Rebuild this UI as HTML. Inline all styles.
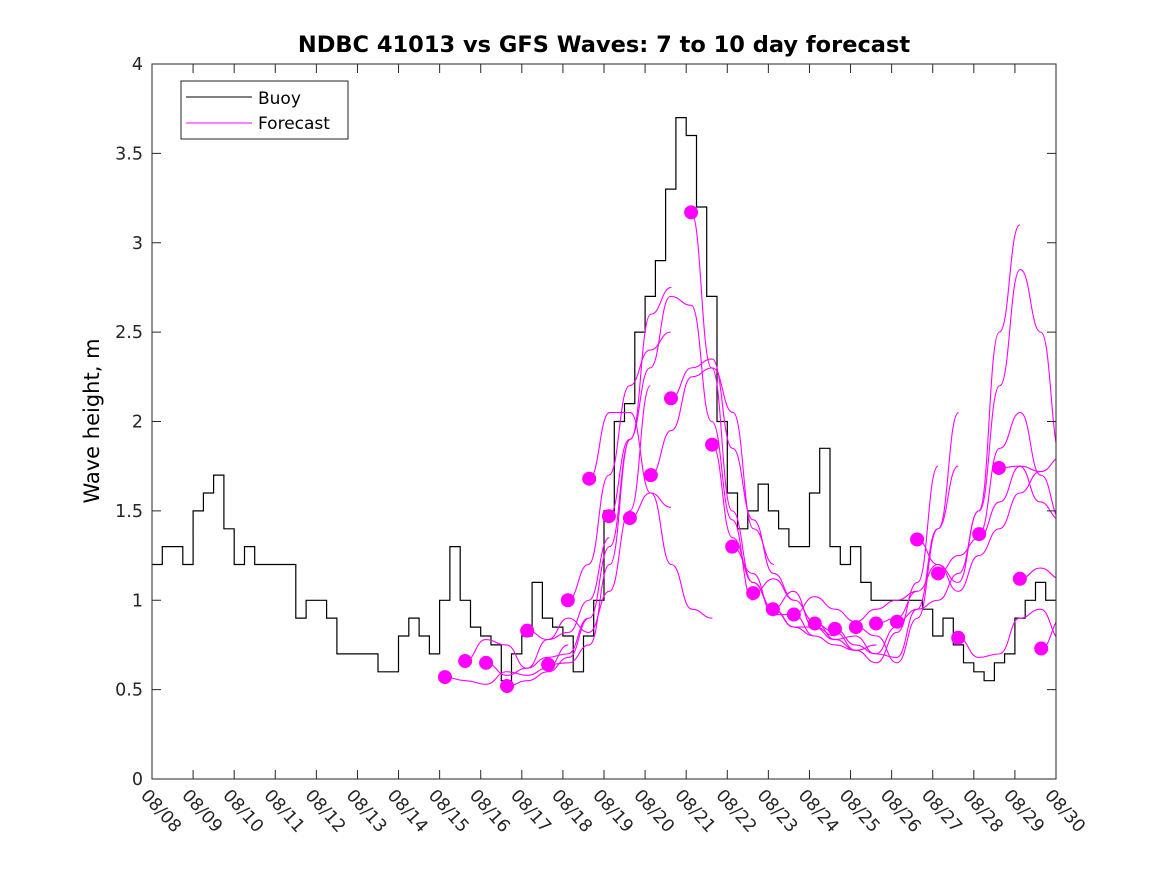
<!DOCTYPE html>
<html><head><meta charset="utf-8"><style>
body{margin:0;background:#fff;}
svg{display:block;font-family:"Liberation Sans","DejaVu Sans",sans-serif;}
</style></head><body>
<svg id="c" width="1167" height="875" viewBox="0 0 1167 875">
<rect width="1167" height="875" fill="#fff"/>
<text x="604" y="52" text-anchor="middle" font-size="22.5" font-weight="bold" font-family="DejaVu Sans, sans-serif">NDBC 41013 vs GFS Waves: 7 to 10 day forecast</text>
<text transform="translate(99,421) rotate(-90)" text-anchor="middle" font-size="21" font-family="DejaVu Sans, sans-serif">Wave height, m</text>
<defs><clipPath id="pc"><rect x="152" y="64" width="904" height="715"/></clipPath></defs>
<g id="marks" clip-path="url(#pc)"></g>
<g id="axes"></g>
<rect x="152" y="64" width="904" height="715" fill="none" stroke="#262626" stroke-width="1"/>
<g>
<rect x="181" y="81" width="167" height="58" fill="#fff" stroke="#262626" stroke-width="1"/>
<line x1="186" y1="97" x2="252" y2="97" stroke="#000"/>
<text x="258" y="104" font-size="17" font-family="DejaVu Sans, sans-serif">Buoy</text>
<line x1="186" y1="123" x2="252" y2="123" stroke="#f0f"/>
<text x="258" y="129" font-size="17" font-family="DejaVu Sans, sans-serif">Forecast</text>
</g>
</svg>
<script>
const dayLabels=["08/08","08/09","08/10","08/11","08/12","08/13","08/14","08/15","08/16","08/17","08/18","08/19","08/20","08/21","08/22","08/23","08/24","08/25","08/26","08/27","08/28","08/29","08/30"];
const yTicks=[0,0.5,1,1.5,2,2.5,3,3.5,4];
const buoy=[1.2,1.3,1.3,1.2,1.5,1.6,1.7,1.4,1.2,1.3,1.2,1.2,1.2,1.2,0.9,1.0,1.0,0.9,0.7,0.7,0.7,0.7,0.6,0.6,0.8,0.9,0.8,0.7,1.0,1.3,1.0,0.85,0.8,0.75,0.55,0.7,0.8,1.1,0.9,0.85,0.8,0.6,0.8,1.0,1.5,2.0,2.1,2.5,2.7,2.9,3.3,3.7,3.6,3.2,2.7,2.0,1.6,1.4,1.5,1.65,1.5,1.4,1.3,1.3,1.6,1.85,1.3,1.2,1.3,1.1,1.0,1.0,1.0,1.0,1.0,0.95,0.8,0.9,0.75,0.65,0.6,0.55,0.65,0.7,0.9,1.0,1.1,1.0];
const dotDays=[7.13,7.62,8.13,8.64,9.13,9.64,10.12,10.64,11.12,11.63,12.14,12.63,13.12,13.63,14.12,14.63,15.11,15.62,16.13,16.62,17.13,17.62,18.13,18.62,19.13,19.62,20.13,20.61,21.12,21.64];
const dotVals=[0.57,0.66,0.65,0.52,0.83,0.64,1.00,1.68,1.47,1.46,1.70,2.13,3.17,1.87,1.30,1.04,0.95,0.92,0.87,0.84,0.85,0.87,0.88,1.34,1.15,0.79,1.37,1.74,1.12,0.73];
const forecasts=[
[0.57,0.55,0.53,0.6,0.58,0.62,0.75],
[0.66,0.78,0.75,0.62,0.68,0.7,0.9],
[0.65,0.58,0.62,0.78,0.82,1.0,1.35],
[0.52,0.55,0.6,0.68,0.9,1.3,1.9],
[0.83,0.78,0.9,0.82,1.05,1.5,2.2],
[0.64,0.65,0.75,1.2,1.9,2.6,2.75],
[1.0,1.2,1.7,2.2,2.4,2.5],
[1.68,2.05,2.05,1.6,1.2,0.95,0.9],
[1.47,1.9,2.3,2.7,2.65,2.0,1.45,1.0],
[1.46,1.6,1.52],
[1.7,1.95,2.25,2.3,2.05,1.4,1.2],
[2.13,2.3,2.35,1.85,1.45,1.15,1.0],
[3.17,2.3,1.5,1.1,0.95,0.85,0.8],
[1.87,1.35,1.1,0.95,0.85,0.85,0.8],
[1.3,1.15,0.92,0.92,0.8,0.75,0.72],
[1.04,1.12,1.0,0.88,0.78,0.72,0.75],
[0.95,1.05,0.85,0.78,0.8,0.7,0.85],
[0.92,1.02,0.95,0.88,0.95,1.0,1.05],
[0.87,0.82,0.72,0.65,0.82,1.1,1.75],
[0.84,0.75,0.7,0.68,0.95,1.4,1.75],
[0.85,0.8,0.65,0.9,1.4,2.05],
[0.87,0.9,1.05,1.2,1.1,1.5,2.5,3.1],
[0.88,0.95,1.0,1.15,1.5,2.2,2.85,2.5,1.8],
[1.34,1.2,1.05,1.25,1.4,1.6,1.72],
[1.15,1.25,1.35,1.55,1.75,1.72,1.8],
[0.79,0.68,0.7,0.9,0.95,0.78,0.72,1.0],
[1.37,1.85,2.05,1.7,1.45,1.3],
[1.74,1.75,1.55,1.45,1.4,1.58],
[1.12,1.18,1.12],
[0.73,0.9,1.0]
];
const NS="http://www.w3.org/2000/svg";
const X0=152,X1=1056,Y0=779,Y1=64,NDAYS=22,YMAX=4;
function xs(d){return X0+(X1-X0)*d/NDAYS;}
function ys(v){return Y0-(Y0-Y1)*v/YMAX;}
function mk(t,a,p){const e=document.createElementNS(NS,t);for(const k in a)e.setAttribute(k,a[k]);p.appendChild(e);return e;}
const marks=document.getElementById('marks'),axes=document.getElementById('axes');
let d="";const step=0.25;
buoy.forEach((v,i)=>{const xa=xs(i*step),xb=xs((i+1)*step),y=ys(v);d+=(i?"L":"M")+xa.toFixed(1)+","+y.toFixed(1)+"L"+xb.toFixed(1)+","+y.toFixed(1);});
const bl=mk('path',{d:d,fill:'none',stroke:'#000','stroke-width':1.2},marks);


forecasts.forEach((arr,k)=>{
 const pts=arr.map((v,j)=>[xs(dotDays[k]+j*0.5),ys(v)]);
 let p="M"+pts[0][0]+","+pts[0][1];
 for(let j=1;j<pts.length;j++){const a=pts[j-1],b=pts[j];const mx=(a[0]+b[0])/2;p+=" C"+mx+","+a[1]+" "+mx+","+b[1]+" "+b[0]+","+b[1];}
 const fl=mk('path',{d:p,fill:'none',stroke:'#f0f','stroke-width':1.1},marks);
 
 
});
dotDays.forEach((dd,k)=>{
 const c=mk('circle',{cx:xs(dd),cy:ys(dotVals[k]),r:7,fill:'#f0f'},marks);
 
 
});
yTicks.forEach(v=>{const y=ys(v);
 mk('line',{x1:X0,y1:y,x2:X0+9,y2:y,stroke:'#262626'},axes);
 mk('line',{x1:X1,y1:y,x2:X1-9,y2:y,stroke:'#262626'},axes);
 const t=mk('text',{x:X0-9,y:y+6,'text-anchor':'end','font-size':17.5,'font-family':'DejaVu Sans, sans-serif',fill:'#262626'},axes);
 t.textContent=String(v);
 
 
});
dayLabels.forEach((lab,i)=>{const x=xs(i);
 mk('line',{x1:x,y1:Y0,x2:x,y2:Y0-9,stroke:'#262626'},axes);
 mk('line',{x1:x,y1:Y1,x2:x,y2:Y1+9,stroke:'#262626'},axes);
 const t=mk('text',{x:0,y:0,transform:'translate('+(x-12)+',796) rotate(48)','font-size':17.5,'font-family':'DejaVu Sans, sans-serif',fill:'#262626'},axes);
 t.textContent=lab;
 
 
});
</script>
</body></html>
